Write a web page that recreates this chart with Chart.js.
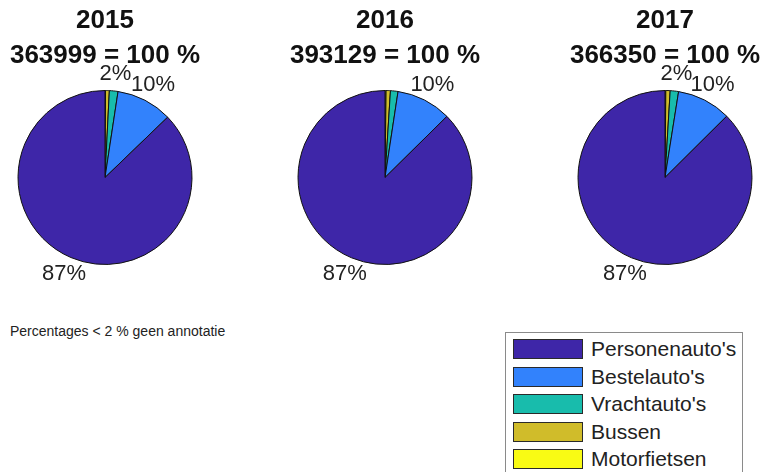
<!DOCTYPE html>
<html>
<head>
<meta charset="utf-8">
<script src="https://cdn.jsdelivr.net/npm/chart.js@4"></script>
<style>
  html, body { margin:0; padding:0; background:#fff; width:763px; height:472px; overflow:hidden; position:relative; font-family:'Liberation Sans', Arial, sans-serif; }
  .pie { position:absolute; top:0; width:210px; height:300px; }
  #note { position:absolute; left:10px; top:323px; font-size:14px; color:#222; white-space:nowrap; }
  #legend { position:absolute; left:505px; top:332px; width:238px; height:160px; border:1px solid #8a8a8a; box-sizing:border-box; background:#fff; }
  .item { position:absolute; left:7px; height:20px; }
  .sw { position:absolute; left:0; top:0; width:70px; height:20px; box-sizing:border-box; border:1.5px solid #2a2a2a; }
  .lt { position:absolute; left:78px; top:-3px; font-size:21px; color:#222; white-space:nowrap; line-height:26px; }
</style>
</head>
<body>
<canvas id="c0" class="pie" width="210" height="300" style="left:0px"></canvas>
<canvas id="c1" class="pie" width="210" height="300" style="left:280px"></canvas>
<canvas id="c2" class="pie" width="210" height="300" style="left:560px"></canvas>
<div id="note">Percentages &lt; 2 % geen annotatie</div>
<div id="legend"></div>
<script>
const years = ['2015', '2016', '2017'];
const totals = [363999, 393129, 366350];
const categories = ["Personenauto's", "Bestelauto's", "Vrachtauto's", "Bussen", "Motorfietsen"];
const colors = ['rgb(62,38,168)', 'rgb(50,130,252)', 'rgb(24,188,172)', 'rgb(208,188,42)', 'rgb(249,251,20)'];
const share2015 = [87.2, 10.4, 1.6, 0.7, 0.1];
const share2016 = [87.4, 10.2, 1.4, 0.8, 0.2];
const share2017 = [87.45, 10.05, 1.55, 0.8, 0.15];
const shares = [share2015, share2016, share2017];

const labelPlugin = {
  id: 'pctLabels',
  afterDatasetsDraw(chart) {
    const ctx = chart.ctx;
    const meta = chart.getDatasetMeta(0);
    const data = chart.data.datasets[0].data;
    const sum = data.reduce((a, b) => a + b, 0);
    ctx.save();
    ctx.font = '22px "Liberation Sans", Arial, sans-serif';
    ctx.fillStyle = '#222';
    ctx.textAlign = 'center';
    ctx.textBaseline = 'middle';
    meta.data.forEach((arc, i) => {
      const p = Math.round(data[i] / sum * 100);
      if (p < 2) return;
      const mid = (arc.startAngle + arc.endAngle) / 2;
      const r = arc.outerRadius * 1.2;
      ctx.fillText(p + '%', arc.x + Math.cos(mid) * r, arc.y + Math.sin(mid) * r);
    });
    ctx.restore();
  }
};

years.forEach((y, k) => {
  const vals = shares[k].slice().reverse();
  const cols = colors.slice().reverse();
  const labs = categories.slice().reverse();
  new Chart(document.getElementById('c' + k), {
    type: 'pie',
    data: {
      labels: labs,
      datasets: [{ data: vals, backgroundColor: cols, borderColor: '#111', borderWidth: 1, hoverOffset: 0 }]
    },
    options: {
      responsive: false,
      animation: false,
      events: [],
      rotation: 0,
      layout: { padding: { top: 0, bottom: 35, left: 0, right: 0 } },
      plugins: {
        legend: { display: false },
        tooltip: { enabled: false },
        title: {
          display: true,
          text: [y, totals[k] + ' = 100 %'],
          color: '#111',
          font: { family: '"Liberation Sans", Arial, sans-serif', size: 26, weight: 'bold', lineHeight: 1.35 },
          padding: { top: 3, bottom: 16.8 }
        }
      }
    },
    plugins: [labelPlugin]
  });
});

const legend = document.getElementById('legend');
categories.forEach((c, i) => {
  const it = document.createElement('div');
  it.className = 'item';
  it.style.top = (6 + i * 27.5) + 'px';
  const sw = document.createElement('div');
  sw.className = 'sw';
  sw.style.background = colors[i];
  const t = document.createElement('div');
  t.className = 'lt';
  t.textContent = c;
  it.appendChild(sw); it.appendChild(t);
  legend.appendChild(it);
});
</script>
</body>
</html>
